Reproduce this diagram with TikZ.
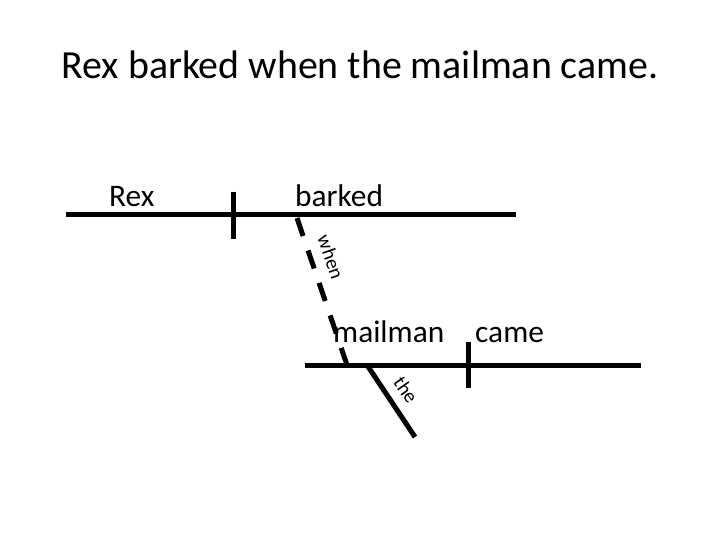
\documentclass[tikz,border=0pt]{standalone}
\usepackage{fontspec}
\setmainfont{Carlito}
\usetikzlibrary{positioning}
\tikzset{
  rule/.style={line width=5bp,black},
  link/.style={rule,dash pattern=on 19bp off 15.3bp},
  word/.style={font=\fontsize{31.5}{36}\selectfont,anchor=base west,inner sep=0pt},
  mod/.style={font=\fontsize{20}{24}\selectfont,inner sep=0pt},
}
\begin{document}
\begin{tikzpicture}[x=1bp,y=-1bp]
  \useasboundingbox (0,0) rectangle (720,540);
  \node[font=\fontsize{40}{48}\selectfont,anchor=base,inner sep=0pt] (ttl)
       at (360,79) {Rex barked when the mailman came.};
  % main clause
  \coordinate (ml) at (66,215);
  \coordinate (mr) at (516,215);
  \coordinate (mt) at (233,192);
  \coordinate (mb) at (233,239);
  \node[word] (rex) at (109,207) {Rex};
  \node[word] (barked) at (295,207) {barked};
  \draw[rule] (ml)--(mr);
  \draw[rule] (mt)--(mb);
  % subordinate clause
  \coordinate (sl) at (305,365);
  \coordinate (sr) at (641,365);
  \coordinate (st) at (468,342);
  \coordinate (sb) at (468,388);
  \node[word] (mailman) at (333,342) {mailman};
  \node[word] (came) at (475,342) {came};
  \draw[rule] (sl)--(sr);
  \draw[rule] (st)--(sb);
  % when
  \coordinate (wt) at (297,218);
  \coordinate (wb) at (347,365);
  \draw[link] (wt)--(wb);
  \node[mod,rotate=-71] (when) at (331,257) {when};
  % the
  \coordinate (tt) at (367,365);
  \coordinate (tb) at (415,437);
  \draw[rule] (tt)--(tb);
  \node[mod,rotate=-55] (the) at (406,390) {the};
\end{tikzpicture}
\end{document}
